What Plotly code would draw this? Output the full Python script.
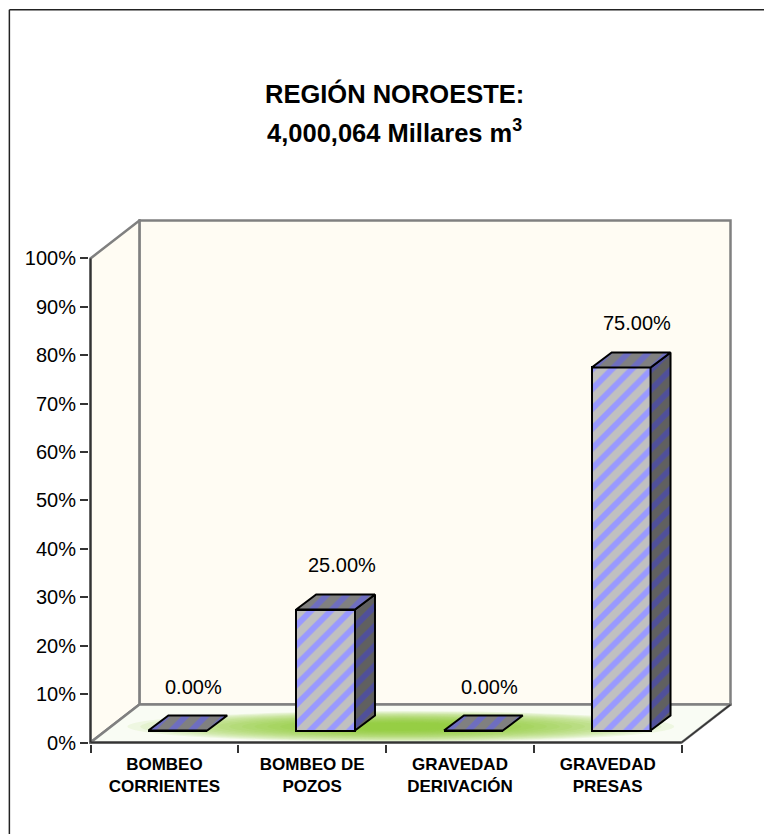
import plotly.graph_objects as go

# ---------------- data ----------------
categories = ["BOMBEO<br>CORRIENTES", "BOMBEO DE<br>POZOS", "GRAVEDAD<br>DERIVACIÓN", "GRAVEDAD<br>PRESAS"]
values = [0.0, 25.0, 0.0, 75.0]
value_labels = ["0.00%", "25.00%", "0.00%", "75.00%"]
y_ticks = [0, 10, 20, 30, 40, 50, 60, 70, 80, 90, 100]
y_tick_labels = ["0%", "10%", "20%", "30%", "40%", "50%", "60%", "70%", "80%", "90%", "100%"]
title_line1 = "REGIÓN NOROESTE:"
title_line2 = "4,000,064 Millares m<sup>3</sup>"

# ---------------- geometry / style ----------------
FONT = "Liberation Sans, Arial, sans-serif"
W, H = 772, 834
PAGE_OFF = 8.0       # browser body margin
N = len(categories)
idx = list(range(N))
PXU = 148.0          # px per category unit
PYU = 4.85           # px per percent
AX_X_PX = 90.0 - PAGE_OFF   # pixel of front-left edge
AX_Y_PX = 743.0 - PAGE_OFF  # pixel of 0%
DX = 49.0 / PXU      # wall depth (x units)
DY = 38.0 / PYU      # wall depth (y units)
PAD_X = 1.5 / PXU
PAD_Y = 1.5 / PYU
XR = [-0.5 - PAD_X, N - 0.5 + DX + PAD_X]
YR = [-PAD_Y, 100 + DY + PAD_Y]
PW = (XR[1] - XR[0]) * PXU
PH = (YR[1] - YR[0]) * PYU
L = AX_X_PX - PAD_X * PXU
T = AX_Y_PX - (YR[1]) * PYU
Bm = H - T - PH
R = W - L - PW

BAR_OFF = -0.108
BAR_W = 0.398
BAR_BASE = 2.47
BDX = 20.0 / PXU
BDY = 15.0 / PYU

def px2paper(px, py):
    return (px - L) / PW, (T + PH - py) / PH

fig = go.Figure()

# front faces of the bars
fig.add_trace(go.Bar(
    x=idx, y=values, base=[BAR_BASE] * N, width=BAR_W, offset=BAR_OFF,
    marker=dict(color="#C0C0C0",
                pattern=dict(shape="/", fgcolor="#9999FF", bgcolor="#C0C0C0",
                             size=14, solidity=0.42, fillmode="replace"),
                line=dict(color="black", width=2)),
    hoverinfo="skip", showlegend=False))

# top and side faces derived from the values
for i, v in enumerate(values):
    x0 = i + BAR_OFF
    x1 = x0 + BAR_W
    top = BAR_BASE + v
    if v > 0:
        fig.add_trace(go.Scatter(
            x=[x1, x1 + BDX, x1 + BDX, x1, x1],
            y=[BAR_BASE, BAR_BASE + BDY, top + BDY, top, BAR_BASE],
            mode="lines", fill="toself", fillcolor="#606060",
            fillpattern=dict(shape="/", fgcolor="#50509A", bgcolor="#606060",
                             size=14, solidity=0.42, fillmode="replace"),
            line=dict(color="black", width=2),
            hoverinfo="skip", showlegend=False))
    fig.add_trace(go.Scatter(
        x=[x0, x1, x1 + BDX, x0 + BDX, x0],
        y=[top, top, top + BDY, top + BDY, top],
        mode="lines", fill="toself", fillcolor="#808080",
        fillpattern=dict(shape="/", fgcolor="#6E6EC0", bgcolor="#808080",
                         size=14, solidity=0.42, fillmode="replace"),
        line=dict(color="black", width=2),
        hoverinfo="skip", showlegend=False))

shapes = []
WALL = "#FFFCF3"
EDGE = "#808080"
xl = -0.5
xr = N - 0.5
# back wall
shapes.append(dict(type="rect", xref="x", yref="y", x0=xl + DX, x1=xr + DX, y0=DY, y1=100 + DY,
                   fillcolor=WALL, line=dict(color=EDGE, width=2.5), layer="below"))
# left wall
shapes.append(dict(type="path", xref="x", yref="y",
                   path=f"M{xl},0 L{xl},100 L{xl + DX},{100 + DY} L{xl + DX},{DY} Z",
                   fillcolor=WALL, line=dict(color=EDGE, width=2.5), layer="below"))
# floor
shapes.append(dict(type="path", xref="x", yref="y",
                   path=f"M{xl},0 L{xr},0 L{xr + DX},{DY} L{xl + DX},{DY} Z",
                   fillcolor="#F9FCF4", line=dict(color=EDGE, width=2.5), layer="below"))
# green glow on floor (soft ellipses)
GC_X, GC_Y = 1.6, 3.3
layers = 18
for k in range(layers):
    f = 1 - k / layers
    hw = 0.3 + 1.55 * f
    hh = 0.6 + 2.6 * f
    shapes.append(dict(type="circle", xref="x", yref="y",
                       x0=GC_X - hw, x1=GC_X + hw,
                       y0=GC_Y - hh, y1=GC_Y + hh,
                       fillcolor="rgba(134,196,30,0.09)", line=dict(width=0), layer="below"))
# front dark edges
shapes.append(dict(type="line", xref="x", yref="y", x0=xl, x1=xl, y0=0, y1=100,
                   line=dict(color="#333333", width=2), layer="above"))
shapes.append(dict(type="line", xref="x", yref="y", x0=xl, x1=xr, y0=0, y1=0,
                   line=dict(color="#333333", width=2), layer="above"))
shapes.append(dict(type="line", xref="x", yref="y", x0=xr, x1=xr + DX, y0=0, y1=DY,
                   line=dict(color="#333333", width=1.5), layer="above"))
# outer frame (left and top edges visible)
bx0, by0 = px2paper(0.75, 0.75)
bx1, by1 = px2paper(W, H)
shapes.append(dict(type="line", xref="paper", yref="paper", x0=bx0, x1=bx0, y0=by0, y1=by1,
                   line=dict(color="#222222", width=1.5)))
shapes.append(dict(type="line", xref="paper", yref="paper", x0=bx0, x1=bx1, y0=by0, y1=by0,
                   line=dict(color="#222222", width=1.5)))

annotations = []
for i, v in enumerate(values):
    annotations.append(dict(x=i + 0.2, y=v + BAR_BASE + 9.1, xref="x", yref="y",
                            text=value_labels[i], showarrow=False, yanchor="middle",
                            font=dict(family=FONT, size=20, color="black")))
tx, ty1 = px2paper(394 - PAGE_OFF, 93 - PAGE_OFF)
_, ty2 = px2paper(394 - PAGE_OFF, 130 - PAGE_OFF)
annotations.append(dict(x=tx, y=ty1, xref="paper", yref="paper", text=title_line1,
                        showarrow=False, yanchor="middle",
                        font=dict(family=FONT, size=25.5, color="black", weight="bold")))
annotations.append(dict(x=tx, y=ty2, xref="paper", yref="paper", text=title_line2,
                        showarrow=False, yanchor="middle",
                        font=dict(family=FONT, size=25.5, color="black", weight="bold")))

fig.update_layout(
    width=W, height=H,
    margin=dict(l=L, r=R, t=T, b=Bm, autoexpand=False),
    paper_bgcolor="white", plot_bgcolor="rgba(0,0,0,0)",
    shapes=shapes, annotations=annotations,
    showlegend=False, bargap=0,
    xaxis=dict(range=XR, autorange=False, fixedrange=True, showgrid=False, zeroline=False,
               showline=False, tickvals=idx, ticktext=categories, ticks="",
               tickfont=dict(family=FONT, size=17, color="black", weight="bold"),
               ticklabelstandoff=8,
               minor=dict(tickvals=[i - 0.5 for i in range(N + 1)], ticks="outside",
                          ticklen=8, tickwidth=1.5, tickcolor="#333333", showgrid=False)),
    yaxis=dict(range=YR, autorange=False, fixedrange=True, showgrid=False, zeroline=False,
               showline=False, tickvals=y_ticks, ticktext=y_tick_labels, ticks="outside",
               ticklen=8, tickwidth=1.5, tickcolor="#333333",
               tickfont=dict(family=FONT, size=20, color="black")),
)

fig.write_html("out.html")
